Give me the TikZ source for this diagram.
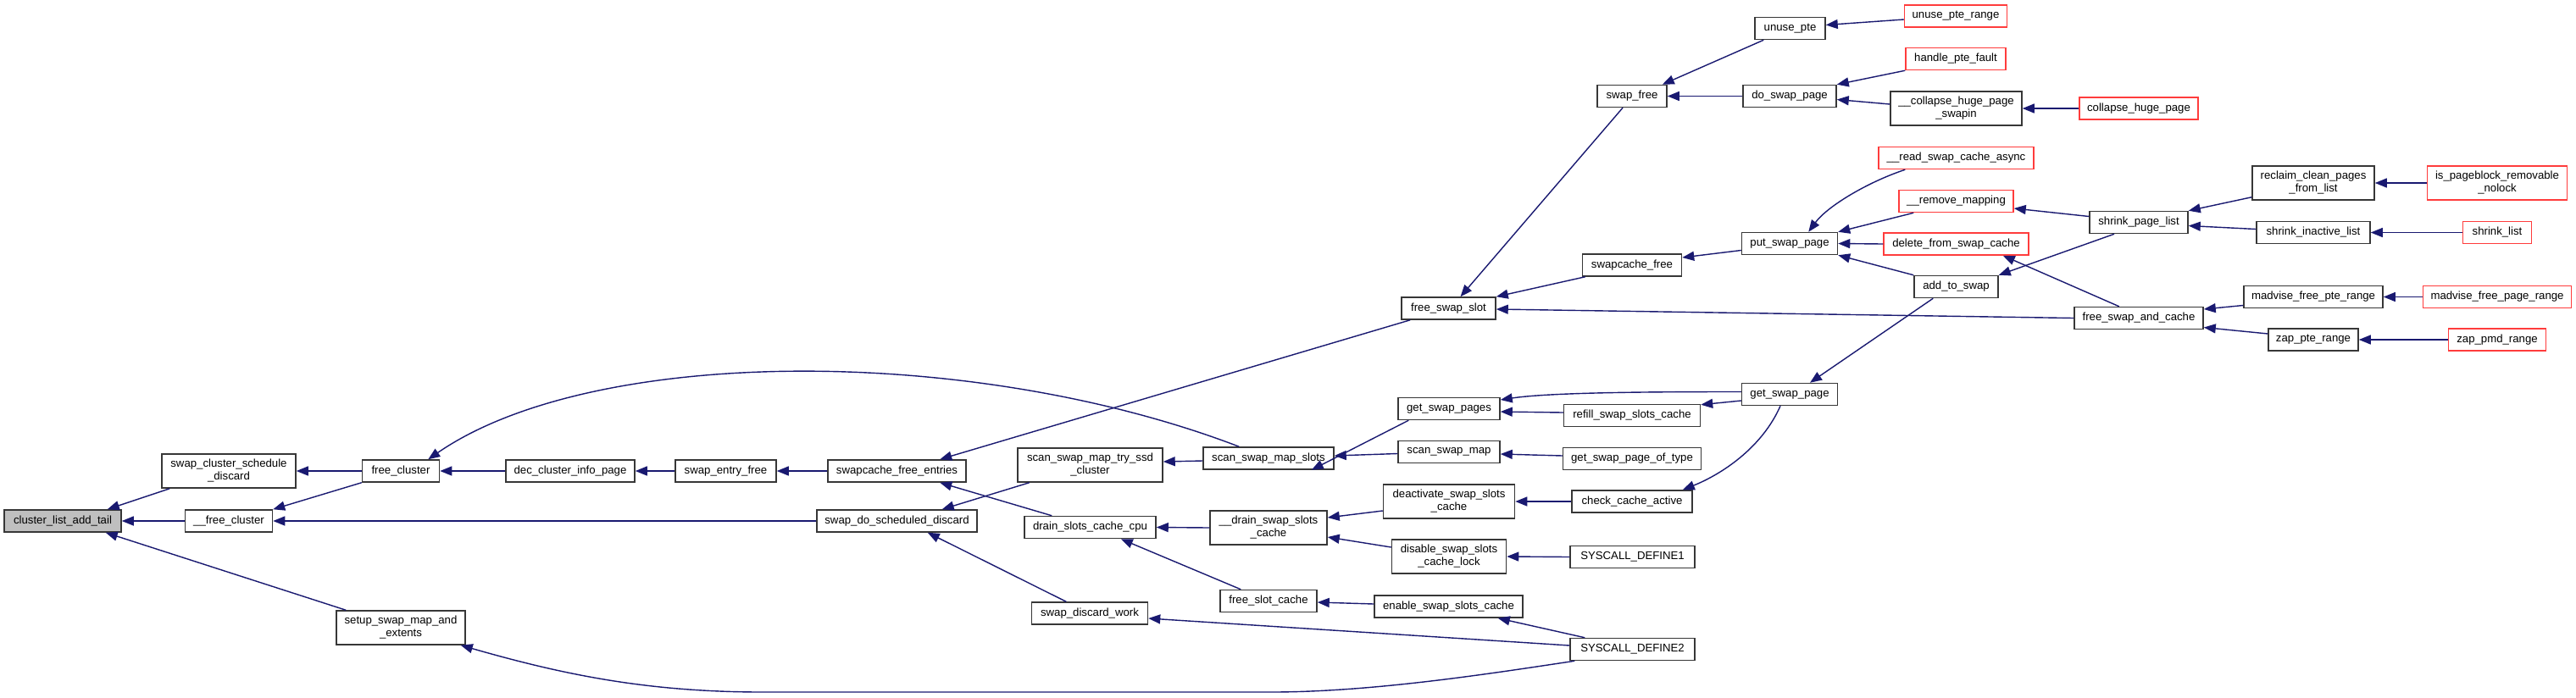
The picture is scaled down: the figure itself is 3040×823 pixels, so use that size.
\documentclass[tikz,border=0pt]{standalone}
\usepackage{fontspec}
\setmainfont{Liberation Sans}
\usetikzlibrary{arrows.meta}
\definecolor{edgeblue}{RGB}{25,25,112}
\definecolor{nodeborder}{RGB}{55,55,55}
\definecolor{truncred}{RGB}{255,60,60}
\definecolor{rootfill}{RGB}{191,191,191}
\tikzset{
  fn/.style={draw=nodeborder, fill=white, line width=1.5pt, inner sep=0pt,
    minimum height=26pt, align=center, font=\fontsize{13.2}{15}\selectfont},
  fn2/.style={fn, minimum height=40pt},
  trunced/.style={draw=truncred},
  rootnode/.style={fill=rootfill},
  calls/.style={draw=edgeblue, line width=1.4pt, {Triangle[length=14pt,width=11pt]}-}
}
\begin{document}
\begin{tikzpicture}[x=1pt,y=-1pt]
\useasboundingbox (0,0) rectangle (3040,823);
% nodes
\node[fn,rootnode,minimum width=138pt] (cla) at (74,615) {cluster\_list\_add\_tail};
\node[fn2,minimum width=158pt] (scd) at (270,556) {swap\_cluster\_schedule\\\_discard};
\node[fn,minimum width=91pt] (fcl) at (473,556) {free\_cluster};
\node[fn,minimum width=152pt] (dci) at (673,556) {dec\_cluster\_info\_page};
\node[fn,minimum width=103pt] (ufc) at (270,615) {\_\_free\_cluster};
\node[fn2,minimum width=152pt] (setup) at (473,741) {setup\_swap\_map\_and\\\_extents};
\node[fn,minimum width=119pt] (sef) at (856.5,556) {swap\_entry\_free};
\node[fn,minimum width=163pt] (sfe) at (1058.5,556) {swapcache\_free\_entries};
\node[fn2,minimum width=171pt] (ssd) at (1286.5,549) {scan\_swap\_map\_try\_ssd\\\_cluster};
\node[fn,minimum width=154pt] (sms) at (1497,541) {scan\_swap\_map\_slots};
\node[fn,minimum width=189pt] (sdsd) at (1058.5,615) {swap\_do\_scheduled\_discard};
\node[fn,minimum width=155pt] (dscc) at (1286.5,622.5) {drain\_slots\_cache\_cpu};
\node[fn2,minimum width=138pt] (udss) at (1497,623) {\_\_drain\_swap\_slots\\\_cache};
\node[fn,minimum width=114pt] (fsc) at (1497,709.5) {free\_slot\_cache};
\node[fn,minimum width=137pt] (sdw) at (1286,724) {swap\_discard\_work};
\node[fn,minimum width=83pt] (unp) at (2112.5,33.5) {unuse\_pte};
\node[fn,minimum width=82pt] (swf) at (1926,113.5) {swap\_free};
\node[fn,minimum width=110pt] (dsp) at (2112,113.5) {do\_swap\_page};
\node[fn,minimum width=113pt] (psp) at (2112,287.5) {put\_swap\_page};
\node[fn,minimum width=117pt] (scf) at (1926,313) {swapcache\_free};
\node[fn,minimum width=111pt] (fss) at (1709.5,364) {free\_swap\_slot};
\node[fn2,minimum width=155pt] (chps) at (2308.5,128) {\_\_collapse\_huge\_page\\\_swapin};
\node[fn,trunced,minimum width=121pt] (upr) at (2308,19) {unuse\_pte\_range};
\node[fn,trunced,minimum width=118pt] (hpf) at (2308,69.5) {handle\_pte\_fault};
\node[fn,trunced,minimum width=183pt] (rsca) at (2308.5,186.5) {\_\_read\_swap\_cache\_async};
\node[fn,trunced,minimum width=135pt] (rmm) at (2308.5,237.5) {\_\_remove\_mapping};
\node[fn,trunced,minimum width=171pt] (dfsc) at (2308.5,288) {delete\_from\_swap\_cache};
\node[fn,minimum width=99pt] (ats) at (2308.5,338.5) {add\_to\_swap};
\node[fn,trunced,minimum width=140pt] (chp) at (2524,128) {collapse\_huge\_page};
\node[fn2,minimum width=144pt] (rcp) at (2730,216) {reclaim\_clean\_pages\\\_from\_list};
\node[fn2,trunced,minimum width=165pt] (ipr) at (2947,216) {is\_pageblock\_removable\\\_nolock};
\node[fn,minimum width=116pt] (spl) at (2524,262.5) {shrink\_page\_list};
\node[fn,minimum width=134pt] (sil) at (2730,274.5) {shrink\_inactive\_list};
\node[fn,trunced,minimum width=81pt] (shl) at (2947,274.5) {shrink\_list};
\node[fn,minimum width=164pt] (mfpr) at (2730,350.5) {madvise\_free\_pte\_range};
\node[fn,trunced,minimum width=175pt] (mfpg) at (2947,350.5) {madvise\_free\_page\_range};
\node[fn,minimum width=152pt] (fsac) at (2524,375.5) {free\_swap\_and\_cache};
\node[fn,minimum width=106pt] (zpr) at (2730,401) {zap\_pte\_range};
\node[fn,trunced,minimum width=115pt] (zpmd) at (2947,401) {zap\_pmd\_range};
\node[fn,minimum width=113pt] (gsp) at (2112,465.5) {get\_swap\_page};
\node[fn,minimum width=120pt] (gsps) at (1710,482.5) {get\_swap\_pages};
\node[fn,minimum width=161pt] (rssc) at (1926,490.5) {refill\_swap\_slots\_cache};
\node[fn,minimum width=120pt] (ssm) at (1710,533.5) {scan\_swap\_map};
\node[fn,minimum width=163pt] (gspot) at (1926,541.5) {get\_swap\_page\_of\_type};
\node[fn2,minimum width=155pt] (dssc) at (1710,592) {deactivate\_swap\_slots\\\_cache};
\node[fn,minimum width=142pt] (cca) at (1926,592) {check\_cache\_active};
\node[fn2,minimum width=135pt] (dsscl) at (1710,657) {disable\_swap\_slots\\\_cache\_lock};
\node[fn,minimum width=147pt] (sd1) at (1926.5,657.5) {SYSCALL\_DEFINE1};
\node[fn,minimum width=175pt] (essc) at (1709.5,716) {enable\_swap\_slots\_cache};
\node[fn,minimum width=147pt] (sd2) at (1926.5,766.5) {SYSCALL\_DEFINE2};
% edges (arrow head at callee)
\draw[calls] ([xshift=-17pt]cla.north east) -- ([xshift=10pt]scd.south west);
\draw[calls] (cla.east) -- (ufc.west);
\draw[calls] ([xshift=-19pt]cla.south east) -- ([xshift=12pt]setup.north west);
\draw[calls] (scd.east) -- (fcl.west);
\draw[calls] (ufc.north east) -- (fcl.south west);
\draw[calls] (fcl.east) -- (dci.west);
\draw[calls] ([xshift=-14pt]fcl.north east) .. controls +(195.5,-135) and +(-313,-120) .. ([xshift=43pt]sms.north west);
\draw[calls] (dci.east) -- (sef.west);
\draw[calls] (sef.east) -- (sfe.west);
\draw[calls] ([xshift=-31.5pt]sfe.north east) -- ([xshift=11pt]fss.south west);
\draw[calls] ([xshift=-31.5pt]sfe.south east) -- ([xshift=33pt]dscc.north west);
\draw[calls] (ufc.east) -- (sdsd.west);
\draw[calls] ([xshift=-42pt]sdsd.north east) -- ([xshift=14.5pt]ssd.south west);
\draw[calls] ([xshift=-59pt]sdsd.south east) -- ([xshift=41.5pt]sdw.north west);
\draw[calls] ([yshift=4pt]ssd.east) -- ([yshift=-3pt]sms.west);
\draw[calls] (dscc.east) -- (udss.west);
\draw[calls] ([xshift=-42pt]dscc.south east) -- ([xshift=25pt]fsc.north west);
\draw[calls] ([yshift=-6pt]sdw.east) -- ([yshift=4.5pt]sd2.west);
\draw[calls] ([xshift=-6pt]setup.south east) .. controls (660,795) and (760,817) .. (900,817)
   -- (1500,817) .. controls (1620,817) and (1760,795) .. ([xshift=6pt]sd2.south west);
\draw[calls] ([xshift=-27pt]sms.south east) -- ([xshift=13pt]gsps.south west);
\draw[calls] ([yshift=3pt]sms.east) -- ([yshift=-2pt]ssm.west);
\draw[calls] ([yshift=12pt]udss.east) -- ([yshift=-11pt]dssc.west);
\draw[calls] ([yshift=-11pt]udss.east) -- ([yshift=11pt]dsscl.west);
\draw[calls] ([yshift=-1.5pt]fsc.east) -- ([yshift=3pt]essc.west);
\draw[calls] ([xshift=-30pt]essc.south east) -- ([xshift=18pt]sd2.north west);
\draw[calls] ([yshift=10.5pt]gsps.east) .. controls +(60,-9) and +(-100,0) .. ([yshift=3pt]gsp.west);
\draw[calls] ([yshift=-1pt]rssc.north east) -- ([yshift=-7.5pt]gsp.west);
\draw[calls] ([yshift=-3.5pt]gsps.east) -- ([yshift=3.5pt]rssc.west);
\draw[calls] ([yshift=-2.5pt]ssm.east) -- ([yshift=3.5pt]gspot.west);
\draw[calls] (dssc.east) -- (cca.west);
\draw[calls] ([xshift=-12pt]cca.north east) .. controls +(45,-18) and +(-22,50) .. ([xshift=-11pt]gsp.south);
\draw[calls] (dsscl.east) -- (sd1.west);
\draw[calls] ([xshift=24pt]gsp.north) -- ([xshift=23pt]ats.south west);
\draw[calls] ([xshift=14pt]fss.north) -- ([xshift=-11pt]swf.south);
\draw[calls] (fss.north east) -- ([xshift=4pt]scf.south west);
\draw[calls] ([yshift=-1pt]fss.east) -- (fsac.west);
\draw[calls] ([xshift=-6pt]swf.north east) -- ([xshift=11pt]unp.south west);
\draw[calls] (swf.east) -- (dsp.west);
\draw[calls] ([yshift=9pt]scf.east) -- ([yshift=-8pt]psp.west);
\draw[calls] ([yshift=4pt]unp.east) -- ([yshift=-4pt]upr.west);
\draw[calls] (dsp.north east) -- (hpf.south west);
\draw[calls] ([yshift=-4pt]dsp.east) -- ([yshift=5pt]chps.west);
\draw[calls] (chps.east) -- (chp.west);
\draw[calls] ([xshift=-35pt]psp.north east) .. controls +(22,-30) and +(-45,15) .. ([xshift=32pt]rsca.south west);
\draw[calls] (psp.north east) -- ([xshift=18pt]rmm.south west);
\draw[calls] (psp.east) -- (dfsc.west);
\draw[calls] (psp.south east) -- (ats.north west);
\draw[calls] ([yshift=-8.5pt]rmm.east) -- ([yshift=7pt]spl.west);
\draw[calls] (ats.north east) -- ([xshift=-29pt]spl.south);
\draw[calls] ([xshift=-31pt]dfsc.south east) -- ([xshift=53.5pt]fsac.north west);
\draw[calls] (spl.north east) -- ([yshift=4pt]rcp.south west);
\draw[calls] ([yshift=-4pt]spl.east) -- ([yshift=4pt]sil.west);
\draw[calls] (rcp.east) -- (ipr.west);
\draw[calls] (sil.east) -- (shl.west);
\draw[calls] ([yshift=10.5pt]fsac.east) -- ([yshift=-10pt]mfpr.west);
\draw[calls] ([yshift=-11pt]fsac.east) -- ([yshift=7pt]zpr.west);
\draw[calls] (mfpr.east) -- (mfpg.west);
\draw[calls] (zpr.east) -- (zpmd.west);
\end{tikzpicture}
\end{document}
